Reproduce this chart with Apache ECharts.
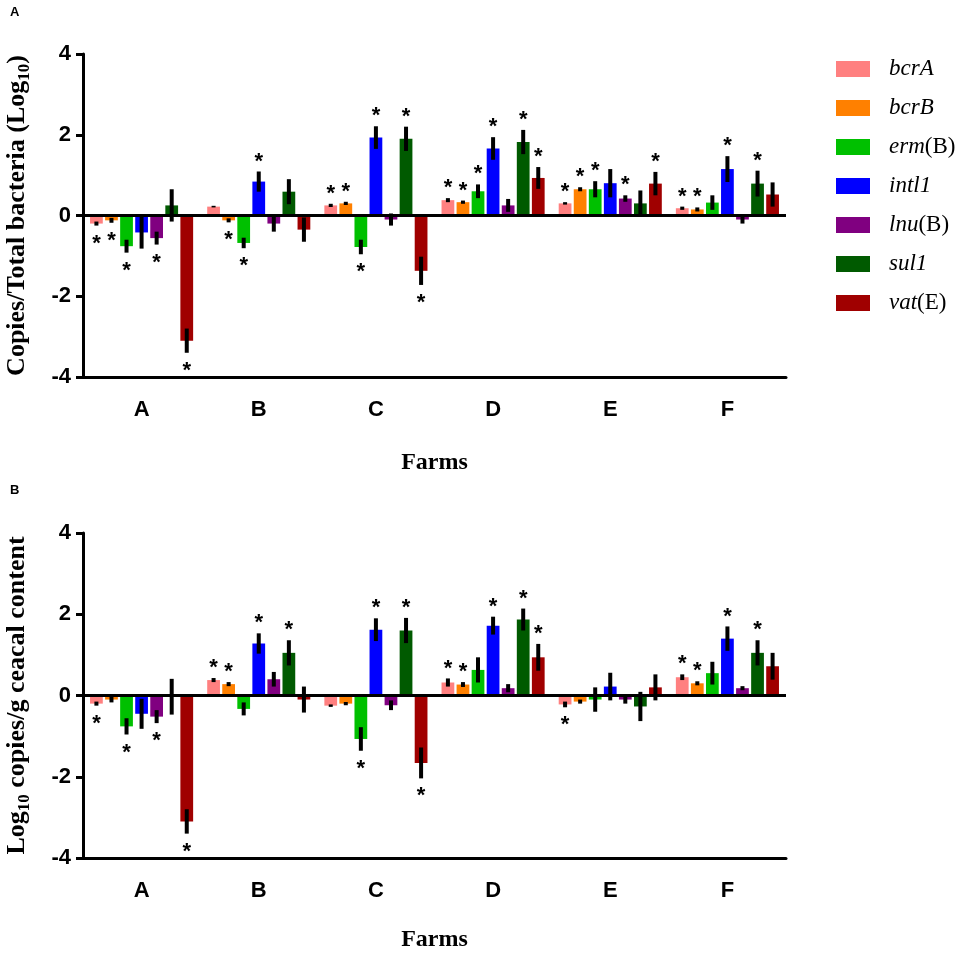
<!DOCTYPE html>
<html>
<head>
<meta charset="utf-8">
<script src="https://cdn.jsdelivr.net/npm/echarts@6/dist/echarts.min.js"></script>
<style>
  html, body { margin: 0; padding: 0; background: #fff; }
  #main { width: 976px; height: 954px; }
</style>
</head>
<body>
<div id="main"></div>
<script>
const genes = ['bcrA', 'bcrB', 'erm(B)', 'intl1', 'lnu(B)', 'sul1', 'vat(E)'];
const farms = ['A', 'B', 'C', 'D', 'E', 'F'];
const colors = ['#FF8080', '#FF8000', '#00C000', '#0000FF', '#800080', '#005A00', '#A00000'];
const yTicks = [-4, -2, 0, 2, 4];

// panel A, one row per gene, one column per farm
const meanA = [
  [-0.20, 0.22, 0.25, 0.38, 0.30, 0.18],
  [-0.12, -0.12, 0.30, 0.33, 0.65, 0.15],
  [-0.76, -0.68, -0.78, 0.60, 0.65, 0.32],
  [-0.42, 0.84, 1.93, 1.66, 0.80, 1.15],
  [-0.56, -0.20, -0.10, 0.25, 0.42, -0.10],
  [0.25, 0.59, 1.90, 1.82, 0.30, 0.79],
  [-3.10, -0.35, -1.37, 0.93, 0.79, 0.52]
];
const errA = [
  [0.05, 0.02, 0.04, 0.05, 0.03, 0.04],
  [0.06, 0.05, 0.04, 0.04, 0.05, 0.05],
  [0.16, 0.13, 0.18, 0.17, 0.20, 0.18],
  [0.40, 0.25, 0.28, 0.28, 0.35, 0.32],
  [0.16, 0.20, 0.15, 0.16, 0.08, 0.10],
  [0.40, 0.31, 0.30, 0.30, 0.32, 0.32],
  [0.30, 0.30, 0.35, 0.27, 0.29, 0.30]
];
const starA = [
  [1, 0, 1, 1, 1, 1],
  [1, 1, 1, 1, 1, 1],
  [1, 1, 1, 1, 1, 0],
  [0, 1, 1, 1, 0, 1],
  [1, 0, 0, 0, 1, 0],
  [0, 0, 1, 1, 0, 1],
  [1, 0, 1, 1, 1, 0]
];

// panel B
const meanB = [
  [-0.20, 0.38, -0.25, 0.32, -0.22, 0.45],
  [-0.10, 0.28, -0.20, 0.27, -0.15, 0.30],
  [-0.76, -0.33, -1.07, 0.63, -0.10, 0.55],
  [-0.45, 1.28, 1.62, 1.72, 0.22, 1.40],
  [-0.52, 0.40, -0.24, 0.18, -0.10, 0.18],
  [-0.03, 1.05, 1.60, 1.87, -0.27, 1.05],
  [-3.10, -0.10, -1.66, 0.94, 0.20, 0.72]
];
const errB = [
  [0.05, 0.05, 0.03, 0.10, 0.07, 0.07],
  [0.07, 0.05, 0.04, 0.06, 0.05, 0.05],
  [0.20, 0.16, 0.29, 0.31, 0.30, 0.28],
  [0.37, 0.25, 0.28, 0.22, 0.34, 0.30],
  [0.16, 0.18, 0.12, 0.10, 0.10, 0.05],
  [0.44, 0.31, 0.31, 0.27, 0.36, 0.31],
  [0.30, 0.32, 0.38, 0.33, 0.32, 0.33]
];
const starB = [
  [1, 1, 0, 1, 1, 1],
  [0, 1, 0, 1, 0, 1],
  [1, 0, 1, 0, 0, 0],
  [0, 1, 1, 1, 0, 1],
  [1, 0, 0, 0, 0, 0],
  [0, 1, 1, 1, 0, 1],
  [1, 0, 1, 1, 0, 0]
];

const SANS = '"Liberation Sans", Arial, sans-serif';
const SERIF = '"Liberation Serif", "Times New Roman", serif';
const catGap = 0.12, barGap = 0.18;

var chart = echarts.init(document.getElementById('main'));

function xAxisFor(gi, gap) {
  return {
    type: 'category', gridIndex: gi, data: farms,
    axisLine: { onZero: false, lineStyle: { color: '#000', width: 3 } },
    axisTick: { alignWithLabel: true, length: 8, lineStyle: { color: '#000', width: 3 } },
    axisLabel: { color: '#000', fontSize: 22, fontWeight: 'bold', fontFamily: SANS, margin: 22 },
    name: 'Farms', nameLocation: 'middle', nameGap: gap,
    nameTextStyle: { color: '#000', fontSize: 24, fontWeight: 'bold', fontFamily: SERIF }
  };
}

function yAxisFor(gi, name) {
  return {
    type: 'value', gridIndex: gi, min: yTicks[0], max: yTicks[yTicks.length - 1], interval: 2,
    splitLine: { show: false },
    axisLine: { show: true, lineStyle: { color: '#000', width: 3 } },
    axisTick: { show: true, length: 7, lineStyle: { color: '#000', width: 3 } },
    axisLabel: { color: '#000', fontSize: 22, fontWeight: 'bold', fontFamily: SANS, margin: 12 },
    name: name, nameLocation: 'middle', nameGap: 50, nameRotate: 90,
    nameTextStyle: {
      color: '#000', fontSize: 26, fontWeight: 'bold', fontFamily: SERIF, lineHeight: 32,
      rich: {
        sub: { fontSize: 17, fontWeight: 'bold', fontFamily: SERIF, color: '#000', lineHeight: 17, verticalAlign: 'bottom' }
      }
    }
  };
}

function barSeries(gi, mean) {
  return genes.map(function (g, i) {
    var s = {
      name: g, type: 'bar', xAxisIndex: gi, yAxisIndex: gi,
      data: mean[i], itemStyle: { color: colors[i] },
      barCategoryGap: (catGap * 100) + '%', barGap: (barGap * 100) + '%',
      silent: true
    };
    if (i === 0) {
      s.markLine = {
        silent: true, symbol: 'none', label: { show: false },
        lineStyle: { color: '#000', width: 3, type: 'solid' },
        data: [{ yAxis: 0 }]
      };
    }
    return s;
  });
}

function errSeries(gi, mean, err, star) {
  var data = [];
  for (var g = 0; g < genes.length; g++) {
    for (var f = 0; f < farms.length; f++) {
      data.push([f, g, mean[g][f], err[g][f], star[g][f]]);
    }
  }
  return {
    type: 'custom', xAxisIndex: gi, yAxisIndex: gi, silent: true, z: 3,
    data: data, encode: { x: 0, y: 2 },
    renderItem: function (params, api) {
      var f = api.value(0), g = api.value(1), m = api.value(2), e = api.value(3), s = api.value(4);
      var band = api.size([1, 0])[0];
      var n = genes.length;
      var w = band * (1 - catGap) / (n + (n - 1) * barGap);
      var total = n * w + (n - 1) * w * barGap;
      var cx = api.coord([f, 0])[0] - total / 2 + g * w * (1 + barGap) + w / 2;
      var yHi = api.coord([f, m + e])[1];
      var yLo = api.coord([f, m - e])[1];
      var kids = [{
        type: 'line',
        shape: { x1: cx, y1: yLo, x2: cx, y2: yHi },
        style: { stroke: '#000', lineWidth: 4 }
      }];
      if (s) {
        var ty = m >= 0 ? yHi - 10 : yLo + 18;
        kids.push({
          type: 'text',
          style: {
            x: cx, y: ty, text: '*', fill: '#000',
            font: 'bold 22px ' + SANS,
            align: 'center', verticalAlign: 'middle',
            textAlign: 'center', textVerticalAlign: 'middle'
          }
        });
      }
      return { type: 'group', children: kids };
    }
  };
}

function legendLabel(name) {
  var m = name.match(/^([^(]+)(\(.*\))?$/);
  return '{i|' + m[1] + '}' + (m[2] ? '{n|' + m[2] + '}' : '');
}

var option = {
  animation: false,
  backgroundColor: '#fff',
  title: [
    { text: 'A', left: 5, top: 1, textStyle: { fontSize: 13, fontWeight: 'bold', fontFamily: SANS, color: '#000' } },
    { text: 'B', left: 5, top: 479, textStyle: { fontSize: 13, fontWeight: 'bold', fontFamily: SANS, color: '#000' } }
  ],
  legend: {
    data: genes, orient: 'vertical', left: 831, top: 52,
    icon: 'rect', itemWidth: 34, itemHeight: 16, itemGap: 15,
    selectedMode: false,
    formatter: legendLabel,
    textStyle: {
      color: '#000', fontSize: 23, fontFamily: SERIF, lineHeight: 24, padding: [0, 0, 0, 14],
      rich: {
        i: { fontStyle: 'italic', fontSize: 23, fontFamily: SERIF, color: '#000' },
        n: { fontStyle: 'normal', fontSize: 23, fontFamily: SERIF, color: '#000' }
      }
    }
  },
  grid: [
    { left: 83, top: 54, width: 703, height: 323, outerBoundsMode: 'none' },
    { left: 83, top: 533, width: 703, height: 325, outerBoundsMode: 'none' }
  ],
  xAxis: [xAxisFor(0, 74), xAxisFor(1, 70)],
  yAxis: [
    yAxisFor(0, 'Copies/Total bacteria (Log{sub|10})'),
    yAxisFor(1, 'Log{sub|10} copies/g ceacal content')
  ],
  series: [].concat(
    barSeries(0, meanA),
    barSeries(1, meanB),
    [errSeries(0, meanA, errA, starA), errSeries(1, meanB, errB, starB)]
  )
};

chart.setOption(option);
</script>
</body>
</html>
